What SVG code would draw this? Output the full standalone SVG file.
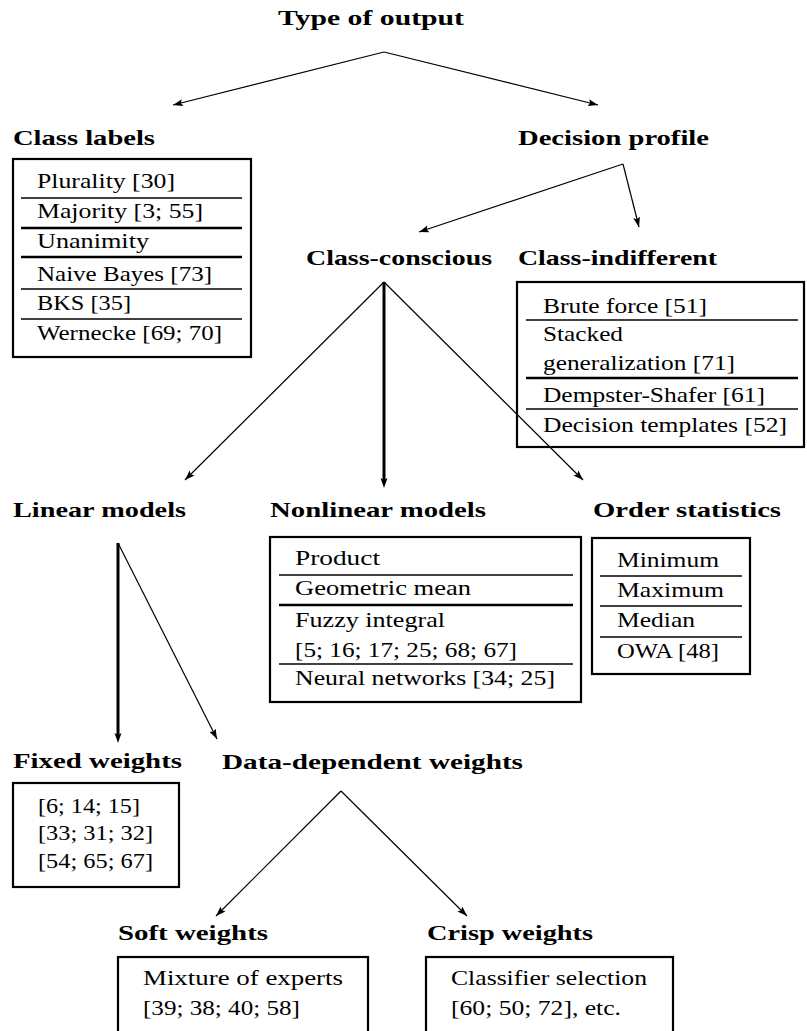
<svg xmlns="http://www.w3.org/2000/svg" width="807" height="1031" viewBox="0 0 807 1031">
<style>
.b{font-family:'Liberation Serif','DejaVu Serif',serif;font-weight:bold;font-size:22px;fill:#000}
.t{font-family:'Liberation Serif','DejaVu Serif',serif;font-size:22px;fill:#000}
.box{fill:none;stroke:#000;stroke-width:2.2}
.sep{stroke:#000;stroke-width:1.6}
.sepk{stroke:#000;stroke-width:2.4}
.c{fill:none;stroke:#000;stroke-width:1.2;marker-end:url(#ah)}
.ck{fill:none;stroke:#000;stroke-width:3;marker-end:url(#ahk)}
</style>
<defs>
<marker id="ah" markerUnits="userSpaceOnUse" markerWidth="12" markerHeight="8" refX="10" refY="3.5" orient="auto" viewBox="0 0 12 8">
<path d="M0,0 L10,3.5 L0,7 L2,3.5 Z" fill="#000"/>
</marker>
<marker id="ahk" markerUnits="userSpaceOnUse" markerWidth="12" markerHeight="8" refX="4" refY="3.5" orient="auto" viewBox="0 0 12 8">
<path d="M0,0 L10,3.5 L0,7 L2,3.5 Z" fill="#000"/>
</marker>
</defs>

<g id="connectors">
<line class="c" x1="384" y1="52" x2="173" y2="105"/>
<line class="c" x1="384" y1="52" x2="598" y2="105"/>
<line class="c" x1="623" y1="164" x2="419" y2="232"/>
<line class="c" x1="623" y1="164" x2="639" y2="227"/>
<line class="c" x1="384" y1="282" x2="185" y2="480"/>
<line class="ck" x1="384" y1="282" x2="384" y2="482"/>
<line class="c" x1="384" y1="282" x2="583" y2="480"/>
<line class="ck" x1="118" y1="543" x2="118" y2="737"/>
<line class="c" x1="118" y1="543" x2="217" y2="739"/>
<line class="c" x1="341" y1="791" x2="216" y2="916"/>
<line class="c" x1="341" y1="791" x2="467" y2="916"/>
</g>

<g id="type-of-output">
<text class="b" x="278" y="25" textLength="186" lengthAdjust="spacingAndGlyphs">Type of output</text>
</g>

<g id="class-labels">
<text class="b" x="13" y="145" textLength="142" lengthAdjust="spacingAndGlyphs">Class labels</text>
<rect class="box" x="13" y="159" width="238" height="198"/>
<text class="t" x="37" y="188" textLength="138" lengthAdjust="spacingAndGlyphs">Plurality [30]</text>
<line class="sep" x1="21" y1="198" x2="242" y2="198"/>
<text class="t" x="37" y="218" textLength="166" lengthAdjust="spacingAndGlyphs">Majority [3; 55]</text>
<line class="sepk" x1="21" y1="228" x2="242" y2="228"/>
<text class="t" x="37" y="248" textLength="112" lengthAdjust="spacingAndGlyphs">Unanimity</text>
<line class="sepk" x1="21" y1="257" x2="242" y2="257"/>
<text class="t" x="37" y="281" textLength="175" lengthAdjust="spacingAndGlyphs">Naive Bayes [73]</text>
<line class="sep" x1="21" y1="289" x2="242" y2="289"/>
<text class="t" x="37" y="310" textLength="94" lengthAdjust="spacingAndGlyphs">BKS [35]</text>
<line class="sep" x1="21" y1="319" x2="242" y2="319"/>
<text class="t" x="37" y="340" textLength="185" lengthAdjust="spacingAndGlyphs">Wernecke [69; 70]</text>
</g>

<g id="decision-profile">
<text class="b" x="518" y="145" textLength="191" lengthAdjust="spacingAndGlyphs">Decision profile</text>
</g>

<g id="class-conscious">
<text class="b" x="306" y="265" textLength="186" lengthAdjust="spacingAndGlyphs">Class-conscious</text>
</g>

<g id="class-indifferent">
<text class="b" x="518" y="265" textLength="199" lengthAdjust="spacingAndGlyphs">Class-indifferent</text>
<rect class="box" x="517" y="282" width="287" height="165"/>
<text class="t" x="543" y="313" textLength="164" lengthAdjust="spacingAndGlyphs">Brute force [51]</text>
<line class="sep" x1="526" y1="320" x2="798" y2="320"/>
<text class="t" x="543" y="341" textLength="80" lengthAdjust="spacingAndGlyphs">Stacked</text>
<text class="t" x="543" y="370" textLength="192" lengthAdjust="spacingAndGlyphs">generalization [71]</text>
<line class="sepk" x1="526" y1="378" x2="798" y2="378"/>
<text class="t" x="543" y="402" textLength="222" lengthAdjust="spacingAndGlyphs">Dempster-Shafer [61]</text>
<line class="sep" x1="526" y1="409" x2="798" y2="409"/>
<text class="t" x="543" y="432" textLength="244" lengthAdjust="spacingAndGlyphs">Decision templates [52]</text>
</g>

<g id="linear-models">
<text class="b" x="13" y="517" textLength="173" lengthAdjust="spacingAndGlyphs">Linear models</text>
</g>

<g id="nonlinear-models">
<text class="b" x="270" y="517" textLength="216" lengthAdjust="spacingAndGlyphs">Nonlinear models</text>
<rect class="box" x="270" y="537" width="311" height="165"/>
<text class="t" x="295" y="565" textLength="85" lengthAdjust="spacingAndGlyphs">Product</text>
<line class="sep" x1="279" y1="575" x2="573" y2="575"/>
<text class="t" x="295" y="595" textLength="176" lengthAdjust="spacingAndGlyphs">Geometric mean</text>
<line class="sepk" x1="279" y1="605" x2="573" y2="605"/>
<text class="t" x="295" y="627" textLength="150" lengthAdjust="spacingAndGlyphs">Fuzzy integral</text>
<text class="t" x="295" y="657" textLength="222" lengthAdjust="spacingAndGlyphs">[5; 16; 17; 25; 68; 67]</text>
<line class="sep" x1="279" y1="664" x2="573" y2="664"/>
<text class="t" x="295" y="685" textLength="260" lengthAdjust="spacingAndGlyphs">Neural networks [34; 25]</text>
</g>

<g id="order-statistics">
<text class="b" x="593" y="517" textLength="188" lengthAdjust="spacingAndGlyphs">Order statistics</text>
<rect class="box" x="592" y="538" width="158" height="136"/>
<text class="t" x="617" y="567" textLength="102" lengthAdjust="spacingAndGlyphs">Minimum</text>
<line class="sep" x1="600" y1="576" x2="742" y2="576"/>
<text class="t" x="617" y="597" textLength="107" lengthAdjust="spacingAndGlyphs">Maximum</text>
<line class="sep" x1="600" y1="606" x2="742" y2="606"/>
<text class="t" x="617" y="627" textLength="78" lengthAdjust="spacingAndGlyphs">Median</text>
<line class="sep" x1="600" y1="637" x2="742" y2="637"/>
<text class="t" x="617" y="658" textLength="102" lengthAdjust="spacingAndGlyphs">OWA [48]</text>
</g>

<g id="fixed-weights">
<text class="b" x="13" y="768" textLength="169" lengthAdjust="spacingAndGlyphs">Fixed weights</text>
<rect class="box" x="13" y="783" width="166" height="104"/>
<text class="t" x="38" y="813" textLength="102" lengthAdjust="spacingAndGlyphs">[6; 14; 15]</text>
<text class="t" x="38" y="840" textLength="115" lengthAdjust="spacingAndGlyphs">[33; 31; 32]</text>
<text class="t" x="38" y="868" textLength="115" lengthAdjust="spacingAndGlyphs">[54; 65; 67]</text>
</g>

<g id="data-dependent-weights">
<text class="b" x="222" y="769" textLength="301" lengthAdjust="spacingAndGlyphs">Data-dependent weights</text>
</g>

<g id="soft-weights">
<text class="b" x="118" y="940" textLength="150" lengthAdjust="spacingAndGlyphs">Soft weights</text>
<rect class="box" x="118" y="957" width="250" height="90"/>
<text class="t" x="143" y="985" textLength="200" lengthAdjust="spacingAndGlyphs">Mixture of experts</text>
<text class="t" x="143" y="1015" textLength="157" lengthAdjust="spacingAndGlyphs">[39; 38; 40; 58]</text>
</g>

<g id="crisp-weights">
<text class="b" x="427" y="940" textLength="166" lengthAdjust="spacingAndGlyphs">Crisp weights</text>
<rect class="box" x="426" y="957" width="247" height="90"/>
<text class="t" x="451" y="985" textLength="196" lengthAdjust="spacingAndGlyphs">Classifier selection</text>
<text class="t" x="451" y="1015" textLength="170" lengthAdjust="spacingAndGlyphs">[60; 50; 72], etc.</text>
</g>
</svg>
